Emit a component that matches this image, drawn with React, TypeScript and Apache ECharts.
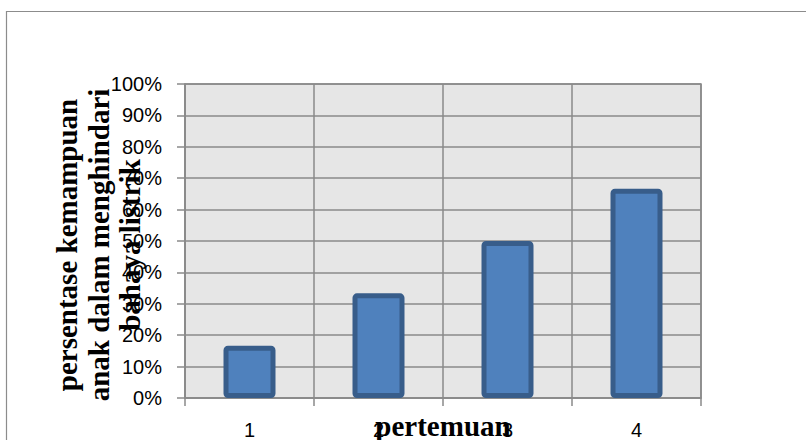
import React, { useEffect, useRef } from "react";
import * as echarts from "echarts";

// Meeting numbers on the x axis
const categories: string[] = ["1", "2", "3", "4"];
// Percentage of children able to avoid electrical hazards, per meeting
const percentValues: number[] = [16.67, 33.33, 50, 66.67];
// Y axis range (percent)
const yMin = 0;
const yMax = 100;
const yStep = 10;

const yTitleLines: string[] = [
  "persentase kemampuan",
  "anak dalam menghindari",
  "bahaya listrik",
];
const xTitle = "pertemuan";

const GRID_LINE = "#8a8a8a";
const SERIF = '"Liberation Serif", "Times New Roman", serif';
const SANS = '"Liberation Sans", Arial, sans-serif';

export default function App() {
  const ref = useRef<HTMLDivElement>(null);

  useEffect(() => {
    if (!ref.current) return;
    const chart = echarts.init(ref.current, undefined, { renderer: "svg" });

    const titleX = [67, 99, 130];

    chart.setOption({
      animation: false,
      backgroundColor: "#ffffff",
      grid: {
        left: 185,
        right: 105,
        top: 84,
        bottom: 42,
        containLabel: false,
        outerBoundsMode: "none",
        show: true,
        backgroundColor: "#e6e6e6",
        borderColor: GRID_LINE,
        borderWidth: 1.5,
      },
      xAxis: {
        type: "category",
        data: categories,
        boundaryGap: true,
        axisLine: { show: true, lineStyle: { color: GRID_LINE, width: 1.5 } },
        axisTick: { show: true, length: 8, lineStyle: { color: GRID_LINE, width: 1.5 } },
        axisLabel: {
          margin: 22,
          fontFamily: SANS,
          fontSize: 20,
          color: "#000",
        },
        splitLine: { show: true, lineStyle: { color: GRID_LINE, width: 1.5 } },
      },
      yAxis: {
        type: "value",
        min: yMin,
        max: yMax,
        interval: yStep,
        axisLine: { show: true, lineStyle: { color: GRID_LINE, width: 1.5 } },
        axisTick: { show: true, length: 8, lineStyle: { color: GRID_LINE, width: 1.5 } },
        axisLabel: {
          margin: 23,
          formatter: "{value}%",
          fontFamily: SANS,
          fontSize: 20,
          color: "#000",
        },
        splitLine: { show: true, lineStyle: { color: GRID_LINE, width: 1.5 } },
      },
      series: [
        {
          type: "bar",
          data: percentValues,
          barWidth: 52,
          itemStyle: {
            color: "#4f81bd",
            borderColor: "#385d8a",
            borderWidth: 5,
            borderRadius: 2,
          },
          z: 1,
        },
      ],
      graphic: [
        {
          type: "rect",
          z: -10,
          silent: true,
          shape: { x: 6.5, y: 11.5, width: 1000, height: 1000 },
          style: { fill: "none", stroke: "#8c8c8c", lineWidth: 1.2 },
        },
        // x axis title, centred under the plot
        {
          type: "text",
          x: 443,
          y: 426,
          z: 100,
          silent: true,
          style: {
            text: xTitle,
            font: `bold 29px ${SERIF}`,
            fill: "#000",
            align: "center",
            verticalAlign: "middle",
          },
        },
        // y axis title, three rotated lines
        ...yTitleLines.map((line, i) => ({
          type: "text",
          x: titleX[i],
          y: 245,
          rotation: Math.PI / 2,
          z: 100,
          silent: true,
          style: {
            text: line,
            font: `bold 29px ${SERIF}`,
            fill: "#000",
            align: "center",
            verticalAlign: "middle",
          },
        })),
      ],
    });

    return () => chart.dispose();
  }, []);

  return (
    <div
      ref={ref}
      style={{ position: "absolute", left: 0, top: 0, width: 806, height: 440 }}
    />
  );
}
